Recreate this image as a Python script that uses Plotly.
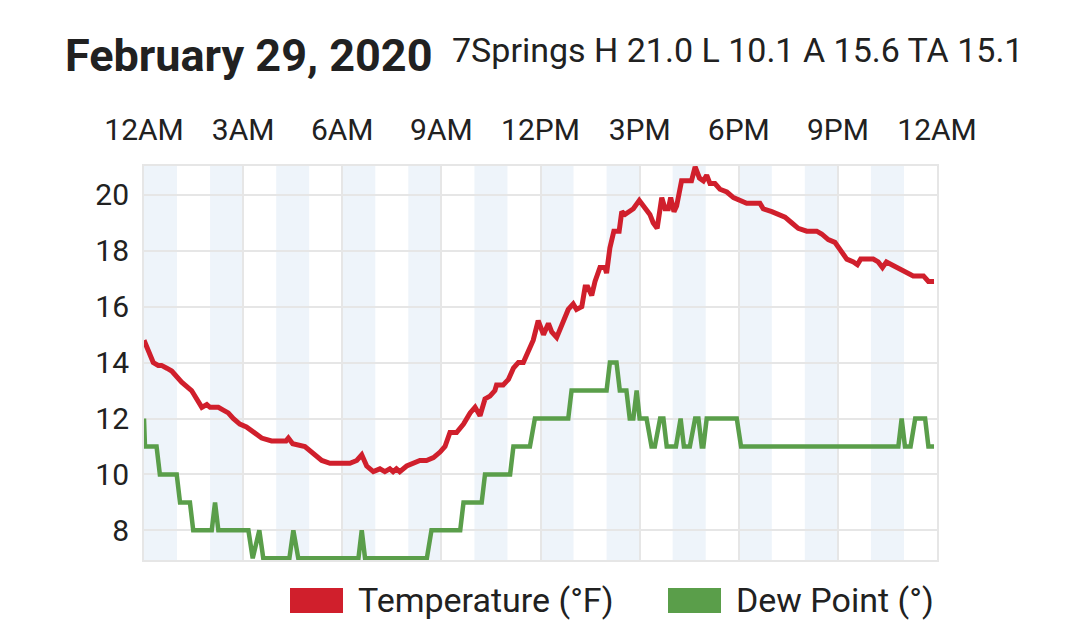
import plotly.graph_objects as go

# readings for the day, hours since midnight
temp_hours = [0.00, 0.13, 0.28, 0.43, 0.53, 0.69, 0.84, 1.14, 1.44, 1.75, 1.90, 2.00,
              2.25, 2.40, 2.55, 2.70, 2.90, 3.10, 3.36, 3.56, 3.86, 4.12, 4.30, 4.37,
              4.50, 4.87, 5.07, 5.38, 5.63, 5.93, 6.23, 6.44, 6.59, 6.74, 6.94, 7.14,
              7.29, 7.44, 7.54, 7.64, 7.74, 7.95, 8.15, 8.35, 8.55, 8.76, 8.96, 9.11,
              9.26, 9.46, 9.67, 9.87, 10.02, 10.17, 10.32, 10.47, 10.62, 10.67, 10.87,
              11.03, 11.18, 11.33, 11.48, 11.63, 11.78, 11.93, 12.09, 12.24, 12.34,
              12.49, 12.64, 12.84, 12.99, 13.09, 13.25, 13.35, 13.43, 13.55, 13.65,
              13.80, 13.95, 14.00, 14.10, 14.22, 14.38, 14.46, 14.56, 14.69, 14.81,
              14.99, 15.11, 15.21, 15.31, 15.41, 15.53, 15.67, 15.77, 15.87, 15.94,
              16.04, 16.12, 16.27, 16.57, 16.68, 16.81, 16.93, 17.03, 17.13, 17.28,
              17.43, 17.64, 17.84, 18.04, 18.24, 18.64, 18.74, 19.00, 19.25, 19.40,
              19.60, 19.80, 20.06, 20.36, 20.51, 20.71, 20.91, 21.07, 21.27, 21.47,
              21.59, 21.69, 22.07, 22.22, 22.35, 22.47, 22.62, 22.78, 22.98, 23.13,
              23.28, 23.59, 23.74, 23.91]
temp_values = [14.8, 14.4, 14.0, 13.9, 13.9, 13.8, 13.7, 13.3, 13.0, 12.4, 12.5, 12.4,
               12.4, 12.3, 12.2, 12.0, 11.8, 11.7, 11.5, 11.3, 11.2, 11.2, 11.2, 11.3,
               11.1, 11.0, 10.8, 10.5, 10.4, 10.4, 10.4, 10.5, 10.7, 10.3, 10.1, 10.2,
               10.1, 10.2, 10.1, 10.2, 10.1, 10.3, 10.4, 10.5, 10.5, 10.6, 10.8, 11.0,
               11.5, 11.5, 11.8, 12.2, 12.4, 12.1, 12.7, 12.8, 13.0, 13.2, 13.2,
               13.4, 13.8, 14.0, 14.0, 14.4, 14.8, 15.5, 15.0, 15.4, 15.1,
               14.9, 15.3, 15.9, 16.1, 15.9, 16.0, 16.7, 16.7, 16.4, 16.9,
               17.4, 17.4, 17.2, 18.1, 18.7, 18.7, 19.4, 19.3, 19.4, 19.5,
               19.8, 19.6, 19.4, 19.3, 19.0, 18.8, 19.9, 19.5, 19.5, 19.9,
               19.4, 19.6, 20.5, 20.5, 21.0, 20.6, 20.5, 20.7, 20.4, 20.4,
               20.2, 20.1, 19.9, 19.8, 19.7, 19.7, 19.5, 19.4, 19.3, 19.2,
               19.0, 18.8, 18.7, 18.7, 18.6, 18.4, 18.3, 18.0, 17.7, 17.6,
               17.5, 17.7, 17.7, 17.6, 17.4, 17.6, 17.5, 17.4, 17.3, 17.2,
               17.1, 17.1, 16.9, 16.9]

dew_hours = [0.00, 0.03, 0.38, 0.48, 0.99, 1.09, 1.39, 1.49, 2.05, 2.15, 2.25, 3.16,
             3.29, 3.49, 3.61, 4.40, 4.52, 4.67, 6.49, 6.59, 6.69, 8.56, 8.70, 9.57,
             9.67, 10.22, 10.32, 11.08, 11.18, 11.68, 11.83, 12.84, 12.94, 14.00,
             14.10, 14.30, 14.40, 14.60, 14.70, 14.81, 14.91, 15.00, 15.21, 15.36,
             15.46, 15.62, 15.72, 15.82, 16.10, 16.24, 16.34, 16.52, 16.68, 16.78,
             16.88, 16.93, 17.03, 17.94, 18.07, 22.83, 22.93, 23.03, 23.20, 23.34,
             23.64, 23.74, 23.91]
dew_values = [12, 11, 11, 10, 10, 9, 9, 8, 8, 9, 8, 8,
              7, 8, 7, 7, 8, 7, 7, 8, 7, 7, 8, 8,
              9, 9, 10, 10, 11, 11, 12, 12, 13, 13,
              14, 14, 13, 13, 12, 12, 13, 12, 12, 11,
              11, 12, 12, 11, 11, 12, 11, 11, 12, 12,
              11, 11, 12, 12, 11, 11, 12, 11, 11, 12,
              12, 11, 11]

tick_hours = [0, 3, 6, 9, 12, 15, 18, 21, 24]
tick_labels = ["12AM", "3AM", "6AM", "9AM", "12PM", "3PM", "6PM", "9PM", "12AM"]
band_hours = [0, 2, 4, 6, 8, 10, 12, 14, 16, 18, 20, 22]

title_text = "February 29, 2020"
summary_text = "7Springs H 21.0 L 10.1 A 15.6 TA 15.1"
series_names = ["Temperature (°F)", "Dew Point (°)"]
series_colors = ["#d01f2c", "#5a9e4a"]

# the page body has an 8px margin, so the figure is a bit smaller than the window
OFF = 8
W, H = 1080 - OFF, 621 - OFF
L, R, T, B = 144 - OFF, 143, 166 - OFF, 61
pw, ph = W - L - R, H - T - B


def px(x):
    # window pixel -> paper x
    return (x - OFF - L) / pw


def py(y):
    # window pixel -> paper y
    return (H - B - (y - OFF)) / ph


fig = go.Figure()
fig.add_trace(go.Scatter(x=temp_hours, y=temp_values, mode="lines", name=series_names[0],
                         line=dict(color=series_colors[0], width=5)))
fig.add_trace(go.Scatter(x=dew_hours, y=dew_values, mode="lines", name=series_names[1],
                         line=dict(color=series_colors[1], width=4.5)))

shapes = []
for h in band_hours:
    shapes.append(dict(type="rect", xref="x", yref="paper", x0=h, x1=h + 1, y0=0, y1=1,
                       fillcolor="#eef4fa", line=dict(width=0), layer="below"))

# legend drawn by hand so the swatches are wide blocks
legend_x = [290, 668]
annotations = []
for i, name in enumerate(series_names):
    x0 = legend_x[i]
    shapes.append(dict(type="rect", xref="paper", yref="paper",
                       x0=px(x0), x1=px(x0 + 53), y0=py(613), y1=py(588),
                       fillcolor=series_colors[i], line=dict(width=0)))
    annotations.append(dict(text=name, xref="paper", yref="paper", x=px(x0 + 66), y=py(600),
                            xanchor="left", yanchor="middle", showarrow=False,
                            font=dict(size=34, color="#212121")))

annotations.append(dict(text="<b>" + title_text + "</b>", xref="paper", yref="paper",
                        x=px(63), y=py(56), xanchor="left", yanchor="middle",
                        showarrow=False, font=dict(size=45, color="#212121")))
annotations.append(dict(text=summary_text, xref="paper", yref="paper",
                        x=px(450), y=py(50), xanchor="left", yanchor="middle",
                        showarrow=False, font=dict(size=34, color="#212121")))

fig.update_layout(
    width=W, height=H,
    margin=dict(l=L, r=R, t=T, b=B),
    paper_bgcolor="white", plot_bgcolor="white",
    font=dict(family="Roboto", color="#212121"),
    showlegend=False,
    shapes=shapes,
    annotations=annotations,
    xaxis=dict(range=[0, 24], side="top", tickvals=tick_hours, ticktext=tick_labels,
               tickfont=dict(size=30), showgrid=True, gridcolor="#e6e6e6", gridwidth=2,
               showline=True, mirror=True, linecolor="#e6e6e6", linewidth=2,
               zeroline=False, ticks="", ticklabelstandoff=12, fixedrange=True),
    yaxis=dict(range=[6.94, 21.03], dtick=2, tick0=0, tickfont=dict(size=30),
               showgrid=True, gridcolor="#e6e6e6", gridwidth=2,
               showline=True, mirror=True, linecolor="#e6e6e6", linewidth=2,
               zeroline=False, ticks="", ticklabelstandoff=7, fixedrange=True),
)

fig.write_html("out.html", config={"displayModeBar": False})
